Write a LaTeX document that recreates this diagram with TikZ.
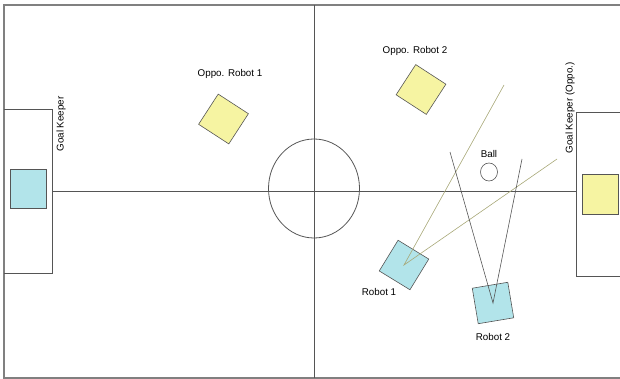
\documentclass[tikz,border=0pt]{standalone}
\usepackage{fontspec}
\usetikzlibrary{shapes.geometric}
\setmainfont{Liberation Sans}
\definecolor{robotblue}{RGB}{178,228,234}
\definecolor{oppoyellow}{RGB}{246,244,162}
\definecolor{fieldline}{RGB}{85,85,85}
\definecolor{sightline}{RGB}{168,168,120}
\begin{document}
\begin{tikzpicture}[
        x=1pt, y=-1pt,
        line/.style={draw=fieldline, line width=0.8pt},
        robot/.style={rectangle, draw=fieldline, line width=0.6pt, minimum size=36pt, inner sep=0pt, fill=robotblue},
        oppo/.style={robot, fill=oppoyellow},
        lbl/.style={font=\fontsize{9.8}{11}\selectfont, inner sep=0pt},
        sight/.style={draw=sightline, line width=0.6pt}
    ]
        \useasboundingbox (0,0) rectangle (620,379);

        % Field
        \draw[line, line width=1.4pt, draw=gray] (620,5) -- (4,5) -- (4,378) -- (620,378);
        \draw[line] (314,5) -- (314,378);
        \draw[line] (52,191) -- (576,191);
        \draw[line] (314,188.5) ellipse (45.5 and 49.5);
        \draw[line] (4,109) -- (52,109) -- (52,273) -- (4,273);
        \draw[line] (620,112) -- (576,112) -- (576,276) -- (620,276);

        % Goal keepers
        \node[robot, minimum width=36pt, minimum height=39pt] (keeper) at (28,188.5) {};
        \node[oppo, minimum width=36pt, minimum height=40pt] (keeperOppo) at (600,194) {};
        \node[lbl, rotate=90] (keeperLbl) at (61,124) {Goal Keeper};
        \node[lbl, rotate=90] (keeperOppoLbl) at (570,108) {Goal Keeper (Oppo.)};

        % Opponents
        \node[oppo, rotate=-33] (oppo1) at (223.5,119) {};
        \node[oppo, rotate=-33] (oppo2) at (421,89.5) {};
        \node[lbl] (oppo1Lbl) at (230,74) {Oppo. Robot 1};
        \node[lbl] (oppo2Lbl) at (415,51) {Oppo. Robot 2};

        % Ball
        \node[draw=fieldline, line width=0.6pt, ellipse, minimum width=17pt, minimum height=18pt, inner sep=0pt] (ball) at (489,172) {};
        \node[lbl] (ballLbl) at (489,154) {Ball};

        % Own robots
        \node[robot, rotate=-31.5] (robot1) at (404,265) {};
        \node[robot, rotate=9.5] (robot2) at (493,303) {};
        \node[lbl] (robot1Lbl) at (379,292) {Robot 1};
        \node[lbl] (robot2Lbl) at (493,337) {Robot 2};

        % Sight lines
        \coordinate (r1a) at (504,85);
        \coordinate (r1b) at (557,159);
        \coordinate (r2a) at (450,152);
        \coordinate (r2b) at (522,159);
        \draw[sight] (r1a) -- (robot1.center) -- (r1b);
        \draw[line, line width=0.6pt] (r2a) -- (robot2.center) -- (r2b);

    \end{tikzpicture}
\end{document}
